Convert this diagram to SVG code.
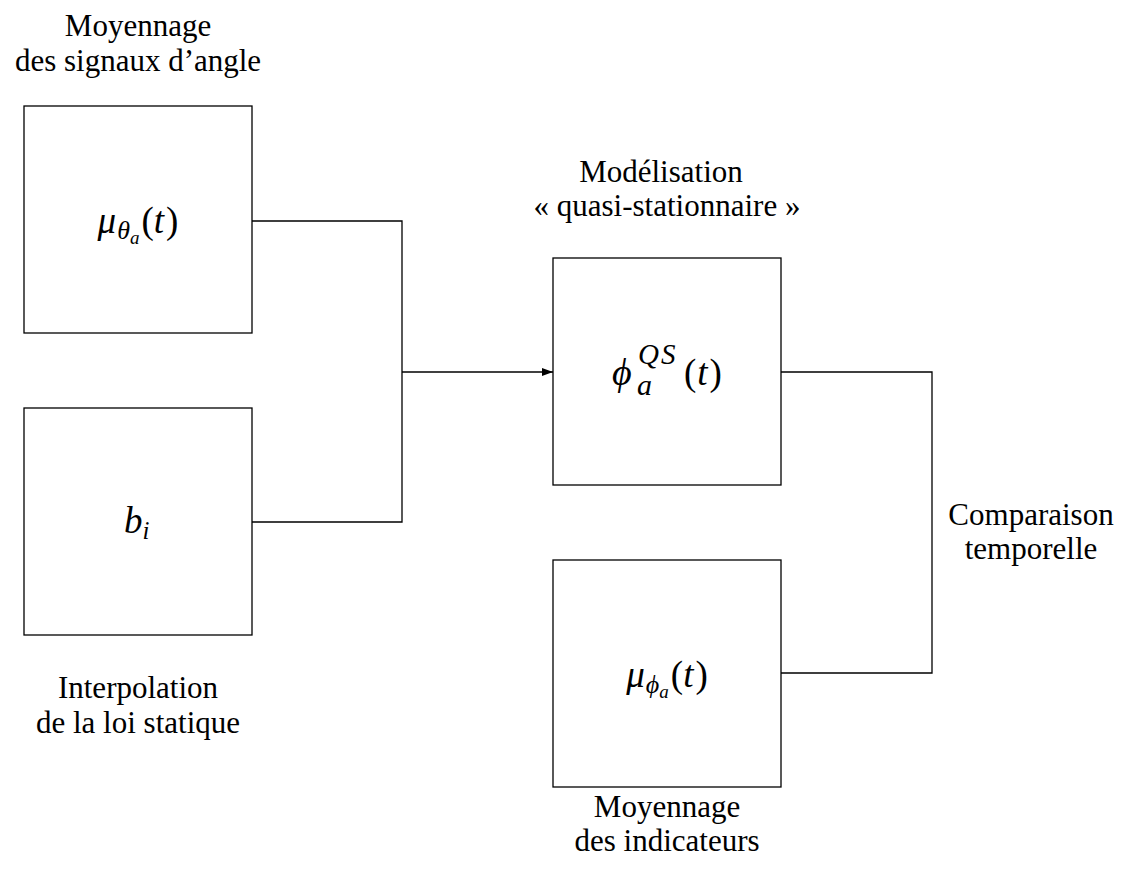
<svg xmlns="http://www.w3.org/2000/svg" width="1128" height="888" viewBox="0 0 1128 888">
<style>
.box{fill:#fff;stroke:#000;stroke-width:1.3}
.lbl{font-family:"Liberation Serif","Times New Roman",serif;font-size:31px;fill:#000;text-anchor:middle}
.m{font-family:"Liberation Serif","Times New Roman",serif;font-size:37px;fill:#000}
.c{text-anchor:middle}
.i{font-style:italic}
.n{font-style:normal}
.wire{fill:none;stroke:#000;stroke-width:1.3}
</style>
<defs>
<marker id="arr" markerWidth="12" markerHeight="10" refX="11" refY="5" orient="auto" markerUnits="userSpaceOnUse">
<path d="M0,1 L11,5 L0,9 Z" fill="#000"/>
</marker>
</defs>
<rect width="1128" height="888" fill="#fff"/>
<g id="connectors">
<polyline class="wire" points="252,221 402,221 402,522 252,522"/>
<line class="wire" x1="402" y1="372" x2="553" y2="372" marker-end="url(#arr)"/>
<polyline class="wire" points="781,372 932,372 932,673 781,673"/>
</g>
<g id="n1">
<rect class="box" x="24" y="106" width="228" height="227"/>
<text class="lbl" x="138" y="36">Moyennage</text>
<text class="lbl" x="138" y="71">des signaux d’angle</text>
<text class="m c" x="138" y="233"><tspan class="i">μ</tspan><tspan class="i" font-size="26" dy="6" dx="1">θ</tspan><tspan class="i" font-size="19" dy="5">a</tspan><tspan dy="-11" dx="2">(</tspan><tspan class="i">t</tspan><tspan dx="2">)</tspan></text>
</g>
<g id="n2">
<rect class="box" x="24" y="408" width="228" height="227"/>
<text class="m" x="124" y="533"><tspan class="i">b</tspan><tspan class="i" font-size="25" dy="6">i</tspan></text>
<text class="lbl" x="138" y="698">Interpolation</text>
<text class="lbl" x="138" y="733">de la loi statique</text>
</g>
<g id="n3">
<rect class="box" x="553" y="258" width="228" height="227"/>
<text class="lbl" x="661" y="182">Modélisation</text>
<text class="lbl" x="667" y="216">« quasi-stationnaire »</text>
<text class="m i" x="612" y="385"><tspan style="font-size:38px">ϕ</tspan><tspan x="637" y="395" style="font-size:30px">a</tspan><tspan x="638" y="364" style="font-size:29px;letter-spacing:2px">QS</tspan><tspan class="n" x="684" y="385" style="font-size:37px;letter-spacing:0">(</tspan><tspan dx="1" style="font-size:37px">t</tspan><tspan class="n" dx="2" style="font-size:37px">)</tspan></text>
</g>
<g id="n4">
<rect class="box" x="553" y="560" width="228" height="227"/>
<text class="m c" x="667" y="687"><tspan class="i">μ</tspan><tspan class="i" font-size="26" dy="6" dx="1">ϕ</tspan><tspan class="i" font-size="19" dy="5">a</tspan><tspan dy="-11" dx="2">(</tspan><tspan class="i">t</tspan><tspan dx="2">)</tspan></text>
<text class="lbl" x="667" y="817">Moyennage</text>
<text class="lbl" x="667" y="851">des indicateurs</text>
</g>
<g id="cmp">
<text class="lbl" x="1031" y="525">Comparaison</text>
<text class="lbl" x="1031" y="559">temporelle</text>
</g>
</svg>
